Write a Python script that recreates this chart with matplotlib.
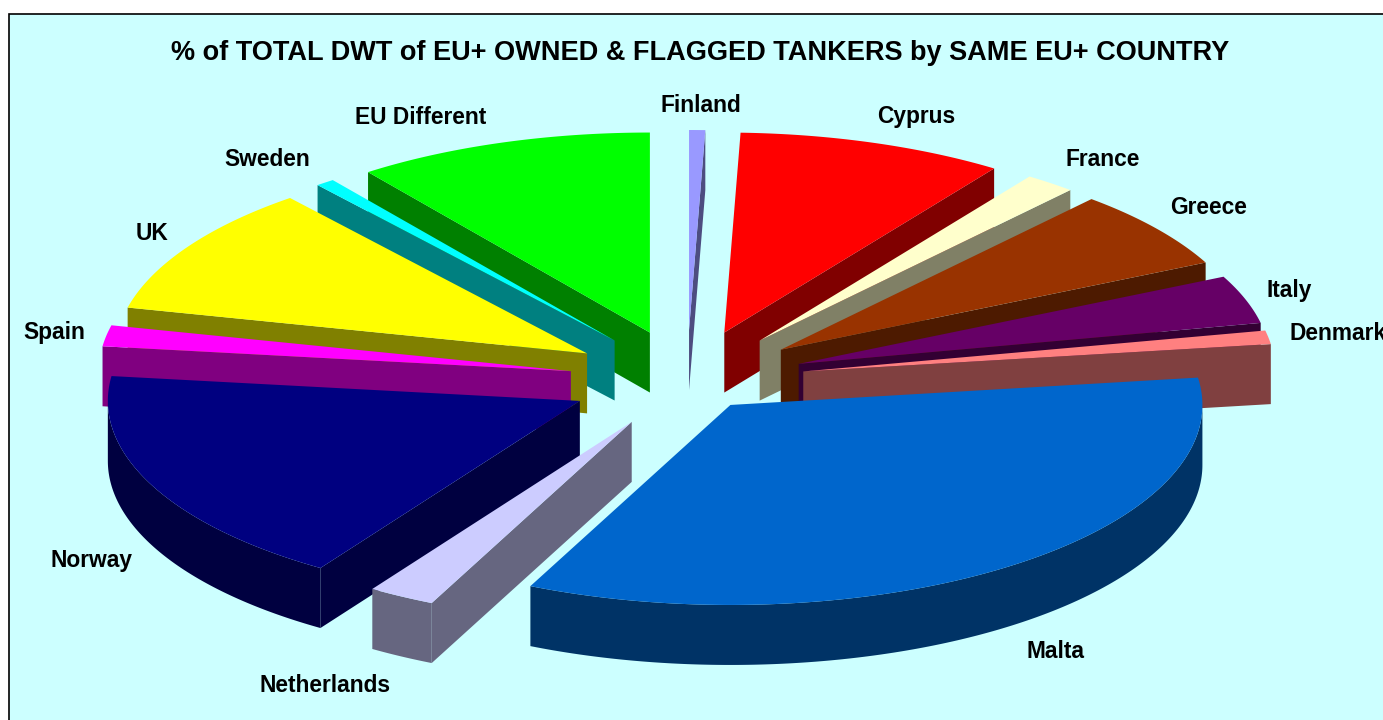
import numpy as np
import matplotlib
matplotlib.use("Agg")
from matplotlib import pyplot as plt
from matplotlib.patches import Polygon, Rectangle

plt.rcParams['font.family'] = ['Liberation Sans', 'DejaVu Sans']

countries = ["Finland", "Cyprus", "France", "Greece", "Italy", "Denmark", "Malta",
             "Netherlands", "Norway", "Spain", "UK", "Sweden", "EU Different"]
shares = [0.55, 9.15, 1.75, 6.4, 3.9, 1.1, 34.2, 2.3, 17.75, 1.7, 10.5, 0.65, 10.2]
explode = [0.25, 0.25, 0.25, 0.25, 0.25, 0.25, 0.155, 0.24, 0.25, 0.25, 0.25, 0.25, 0.25]
top_colors = ["#9999FF", "#FF0000", "#FFFFCC", "#993300", "#660066", "#FF8080", "#0066CC",
              "#CCCCFF", "#000080", "#FF00FF", "#FFFF00", "#00FFFF", "#00FF00"]
label_pos = [(701, 105), (916, 116), (1103, 159), (1209, 207), (1289, 290), (1338, 333), (1055, 651),
             (325, 685), (92, 560), (54, 332), (152, 233), (267, 159), (421, 117)]

# pie geometry on the canvas, in pixels
CX, CY = 687, 380
RX, RY = 472, 200
DEPTH = 60


def project(theta, r, ox=0.0, oy=0.0):
    # theta is clockwise from north, in degrees
    t = np.radians(theta)
    return ox + RX * r * np.sin(t), oy - RY * r * np.cos(t)


def shade(color):
    rgb = np.array(matplotlib.colors.to_rgb(color))
    return tuple(rgb * 0.5)


def draw_slice(ax, a0, a1, expl, color):
    mid = (a0 + a1) / 2
    ox, oy = project(mid, expl, CX, CY)
    dark = shade(color)
    thetas = np.linspace(a0, a1, max(int(a1 - a0) * 2, 2) + 1)
    rx, ry = project(thetas, 1.0, ox, oy)

    # flat side faces, only the ones turned towards the viewer
    for ang, sign in ((a0, -1), (a1, 1)):
        if sign * -np.sin(np.radians(ang)) < 0:
            ex, ey = project(ang, 1.0, ox, oy)
            ax.add_patch(Polygon([(ox, oy), (ex, ey), (ex, ey + DEPTH), (ox, oy + DEPTH)],
                                 closed=True, fc=dark, ec="none", zorder=2))

    # curved rim
    lo, hi = max(a0, 90), min(a1, 270)
    if hi > lo:
        ts = np.linspace(lo, hi, int(hi - lo) * 2 + 2)
        ex, ey = project(ts, 1.0, ox, oy)
        pts = list(zip(ex, ey)) + list(zip(ex[::-1], ey[::-1] + DEPTH))
        ax.add_patch(Polygon(pts, closed=True, fc=dark, ec="none", zorder=2))

    top = [(ox, oy)] + list(zip(rx, ry))
    ax.add_patch(Polygon(top, closed=True, fc=color, ec="none", zorder=2))


fig = plt.figure(figsize=(13.83, 7.2), dpi=100, facecolor="white")
ax = fig.add_axes([0, 0, 1, 1])
ax.set_xlim(0, 1383)
ax.set_ylim(720, 0)
ax.axis("off")

ax.add_patch(Rectangle((8.5, 13.5), 1400, 720, fc="#CCFFFF", ec="black", lw=1.2, zorder=1))

edges = np.concatenate([[0], np.cumsum(shares)]) / np.sum(shares) * 360
mids = (edges[:-1] + edges[1:]) / 2

# far slices first so the near ones paint over them
order = np.argsort(-np.cos(np.radians(mids)))
for i in order:
    draw_slice(ax, edges[i], edges[i + 1], explode[i], top_colors[i])

ax.text(700, 53, "% of TOTAL DWT of EU+ OWNED & FLAGGED TANKERS by SAME EU+ COUNTRY",
        ha="center", va="center", fontsize=19.55, fontweight="bold", zorder=5)
for name, (x, y) in zip(countries, label_pos):
    ax.text(x, y, name, ha="center", va="center", fontsize=16.4, fontweight="bold", zorder=5)

fig.savefig("out.png", dpi=100)
